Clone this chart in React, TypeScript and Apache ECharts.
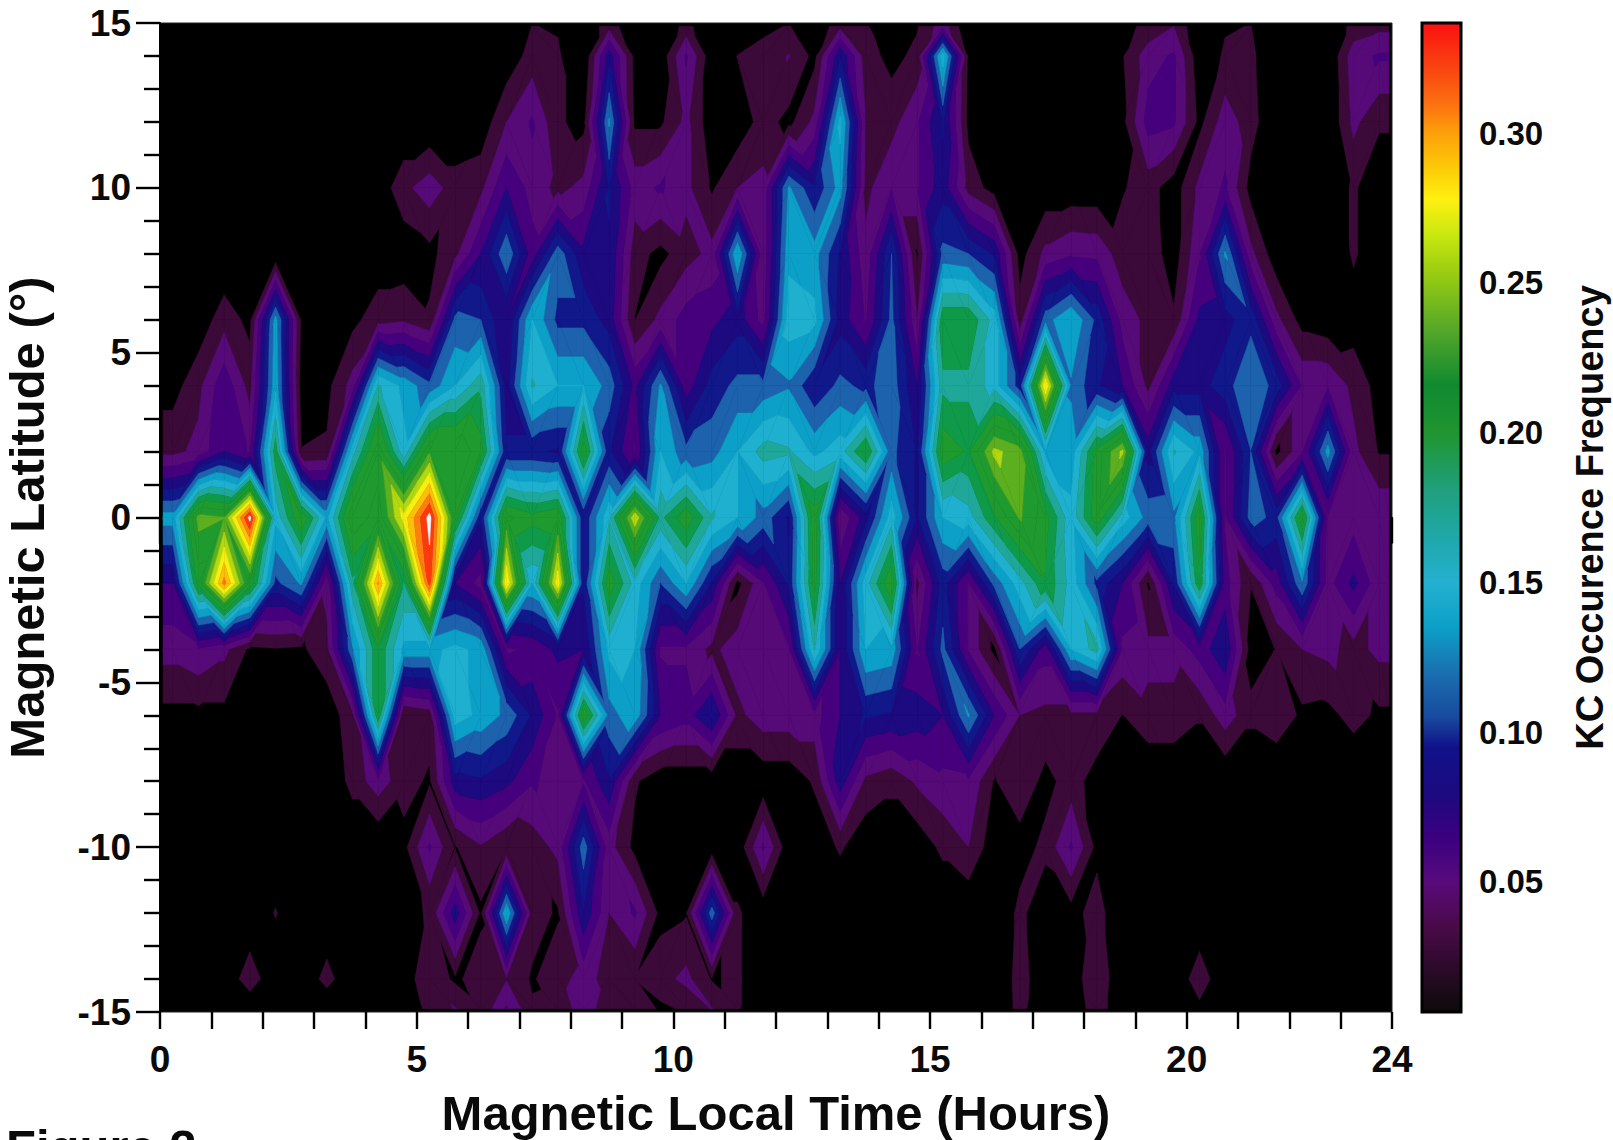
import React, { useEffect, useRef } from "react";
import * as echarts from "echarts";

// KC occurrence frequency x1000, one list per magnetic-latitude row, 48 half-hour MLT bins.
const lat15 = [0,0,0,5,0,0,5,0,0,0, 0,0,0,0,18,16,0,28,0,0, 24,0,0,12,19,0,30,20,0,16, 45,0,0,0,0,0,0,12,22,35, 0,16,18,0,0,0,24,30];
const lat14 = [8,0,0,0,0,0,0,0,0,0, 0,0,0,5,25,20,0,80,12,5, 55,5,18,26,36,12,85,25,12,22, 150,14,0,0,0,0,0,16,45,55, 5,20,22,0,0,0,45,55];
const lat12 = [0,0,0,0,0,0,0,0,0,0, 0,0,5,35,55,20,12,125,14,14, 40,5,5,25,12,40,145,35,28,50, 90,12,0,0,0,0,0,12,60,55, 12,45,25,0,0,0,40,20];
const lat10 = [0,0,0,0,0,0,0,0,5,30, 45,26,30,70,45,30,40,90,45,55, 40,15,35,40,125,90,130,30,50,50, 80,28,10,5,5,5,5,16,25,8, 40,55,10,0,0,5,20,5];
const lat8 = [0,0,0,0,0,0,0,0,5,5, 12,30,70,120,60,115,75,85,25,12, 28,40,140,40,135,130,85,40,105,15, 110,105,85,10,40,50,48,25,28,8, 50,125,40,5,0,0,20,5];
const lat6 = [5,5,28,12,130,15,5,12,28,32, 20,110,105,70,140,100,100,80,17,40, 60,65,80,45,150,145,80,50,110,35, 190,190,150,25,115,140,100,45,30,20, 75,80,100,40,10,5,8,5];
const lat4 = [10,30,65,28,135,10,12,42,160,135, 110,140,170,80,160,140,140,115,65,125, 60,95,110,110,120,90,110,100,115,70, 170,170,150,95,280,120,90,70,30,80, 80,98,120,98,50,50,30,10];
const lat2 = [30,40,70,50,185,18,20,150,220,145, 225,225,200,90,90,85,205,90,50,140, 110,115,140,165,160,135,150,195,110,85, 205,190,250,235,135,130,200,250,80,160, 135,50,105,12,50,130,40,16];
const lat0 = [130,235,228,340,145,210,135,225,200,270, 340,205,90,215,200,210,90,155,260,170, 205,160,140,115,85,205,35,80,150,85, 140,150,190,230,200,145,205,150,115,118, 205,50,112,100,205,48,44,50];
const latM2 = [70,200,305,205,100,125,40,170,300,175, 322,70,45,280,140,275,90,205,150,105, 140,85,12,50,90,200,70,150,210,30, 95,50,110,150,190,150,100,70,15,90, 190,60,18,60,120,45,75,40];
const latM4 = [42,50,40,14,16,14,30,120,190,135, 135,145,135,50,55,75,70,145,140,50, 50,30,45,45,50,160,70,140,135,50, 110,50,12,105,60,140,165,48,40,40, 60,85,10,18,35,40,28,40];
const latM6 = [12,12,12,5,5,5,5,30,190,18, 25,150,135,118,85,50,210,115,135,70, 60,90,30,45,45,45,70,90,85,80, 70,125,70,35,30,30,30,17,30,30, 20,45,22,30,14,12,24,14];
const latM8 = [0,0,0,0,0,0,0,24,45,24, 15,80,85,75,55,45,50,85,20,5, 5,5,5,5,5,20,80,30,22,38, 48,50,16,30,12,25,10,5,0,0, 0,0,0,0,0,0,0,0];
const latM10 = [0,0,0,0,0,0,0,0,0,12, 55,16,33,18,25,40,115,42,12,5, 5,5,5,55,5,5,20,5,5,5, 22,35,5,10,22,55,12,0,0,0, 0,0,0,0,0,0,0,0];
const latM12 = [0,0,0,0,19,0,0,0,0,10, 20,80,14,140,26,15,85,35,55,12, 16,115,20,5,0,0,0,0,0,0, 0,0,0,22,5,10,26,0,0,0, 0,0,0,0,0,0,0,0];
const latM14 = [0,0,0,30,0,0,25,0,0,8, 30,14,26,34,15,30,40,30,18,28, 40,16,20,5,0,0,0,0,0,0, 0,0,0,25,5,5,34,0,0,0, 30,0,0,0,0,0,0,0];
const latM15 = [0,0,0,0,0,0,0,0,0,0, 24,36,20,55,20,22,45,24,35,14, 20,36,20,0,0,0,0,0,0,0, 0,0,0,24,0,0,30,0,0,0, 12,0,0,0,0,0,0,0];

const rowLats = [14.9, 14, 12, 10, 8, 6, 4, 2, 0, -2, -4, -6, -8, -10, -12, -14, -14.9];
const rowValues = [lat15, lat14, lat12, lat10, lat8, lat6, lat4, lat2, lat0, latM2, latM4, latM6, latM8, latM10, latM12, latM14, latM15];

// Contour bands: lower bound and colour.
const bandLows = [17.5, 35, 52.5, 70, 87.5, 105, 122.5, 140, 157.5, 175, 192.5, 210, 227.5, 245, 262.5, 280, 297.5, 315, 332.5];
const bandColors = ["#3c0a38", "#560a78", "#46007e", "#1e0a80", "#10188a", "#1c62ad", "#0ca0c8", "#1fb0d0", "#1fa89a", "#0f9a4a", "#1f9a2f", "#1f9a2f", "#5caf1f", "#b4d810", "#f5f010", "#fcc008", "#fc8010", "#fc3a10", "#ffffff"];

const colorbarValues = [0.0065, 0.02, 0.035, 0.05, 0.065, 0.08, 0.095, 0.105, 0.12, 0.135, 0.15, 0.165, 0.18, 0.2, 0.216, 0.233, 0.255, 0.266, 0.278, 0.289, 0.3, 0.31, 0.32, 0.3368];
const colorbarColors = ["#0c0a0a", "#2a0a28", "#4a0a48", "#580a7c", "#3a0080", "#1c0a80", "#10128a", "#184a9e", "#1a70b0", "#0ca0c8", "#24b0d0", "#1fa8a8", "#1fa080", "#20952f", "#108a30", "#50a52a", "#a0d010", "#c8e810", "#fff010", "#fcc808", "#fca00a", "#fc7010", "#fa4a10", "#fc1010"];

const xMajor = [0, 5, 10, 15, 20, 24];
const colorbarTicks = [0.05, 0.1, 0.15, 0.2, 0.25, 0.3];

const FONT = "Liberation Sans";

type P = [number, number, number];

function clip(poly: P[], level: number, keepAbove: boolean): P[] {
  const out: P[] = [];
  for (let i = 0; i < poly.length; i++) {
    const a = poly[i];
    const b = poly[(i + 1) % poly.length];
    const ina = keepAbove ? a[2] >= level : a[2] <= level;
    const inb = keepAbove ? b[2] >= level : b[2] <= level;
    if (ina) out.push(a);
    if (ina !== inb) {
      const t = (level - a[2]) / (b[2] - a[2]);
      out.push([a[0] + (b[0] - a[0]) * t, a[1] + (b[1] - a[1]) * t, level]);
    }
  }
  return out;
}

function buildCells() {
  const xs: number[] = [0.06];
  for (let i = 0; i < 48; i++) xs.push(0.25 + 0.5 * i);
  xs.push(23.94);
  const val = (r: number, c: number) => rowValues[r][Math.min(47, Math.max(0, c - 1))];
  const cells: number[][] = [];
  for (let r = 0; r < rowLats.length - 1; r++) {
    for (let c = 0; c < xs.length - 1; c++) {
      const a = val(r, c), b = val(r, c + 1), d = val(r + 1, c), e = val(r + 1, c + 1);
      if (Math.max(a, b, d, e) < bandLows[0]) continue;
      cells.push([xs[c], rowLats[r], xs[c + 1], rowLats[r + 1], a, b, d, e]);
    }
  }
  return cells;
}

function renderCell(_: any, api: any) {
  const x0 = api.value(0), y0 = api.value(1), x1 = api.value(2), y1 = api.value(3);
  const a = api.value(4), b = api.value(5), d = api.value(6), e = api.value(7);
  const pa = api.coord([x0, y0]), pb = api.coord([x1, y0]), pd = api.coord([x0, y1]), pe = api.coord([x1, y1]);
  const A: P = [pa[0], pa[1], a], B: P = [pb[0], pb[1], b], E: P = [pe[0], pe[1], e], D: P = [pd[0], pd[1], d];
  // The diagonal joins the two closest corner values, so lone peaks and pits become diamonds.
  const tris: P[][] = Math.abs(a - e) <= Math.abs(b - d) ? [[A, B, E], [A, E, D]] : [[A, B, D], [B, E, D]];
  const children: any[] = [];
  for (const tri of tris) {
    const top = Math.max(tri[0][2], tri[1][2], tri[2][2]);
    const bot = Math.min(tri[0][2], tri[1][2], tri[2][2]);
    for (let k = 0; k < bandLows.length; k++) {
      const lo = bandLows[k];
      const hi = k + 1 < bandLows.length ? bandLows[k + 1] : 1e9;
      if (top < lo || bot > hi) continue;
      let poly = clip(tri, lo, true);
      if (poly.length >= 3) poly = clip(poly, hi, false);
      if (poly.length < 3) continue;
      children.push({
        type: "polygon",
        shape: { points: poly.map((p) => [p[0], p[1]]) },
        style: { fill: bandColors[k], stroke: bandColors[k], lineWidth: 0.6 },
      });
    }
  }
  return { type: "group", children };
}

function renderColorbar(_: any, api: any) {
  const lo = api.coord([0, colorbarValues[0]]);
  const hi = api.coord([1, colorbarValues[colorbarValues.length - 1]]);
  const span = colorbarValues[colorbarValues.length - 1] - colorbarValues[0];
  const stops = colorbarValues.map((v, i) => ({ offset: (v - colorbarValues[0]) / span, color: colorbarColors[i] }));
  return {
    type: "rect",
    shape: { x: lo[0], y: hi[1], width: hi[0] - lo[0], height: lo[1] - hi[1] },
    style: { fill: new echarts.graphic.LinearGradient(0, 1, 0, 0, stops), stroke: "#000", lineWidth: 3 },
  };
}

export default function App() {
  const ref = useRef<HTMLDivElement>(null);
  useEffect(() => {
    document.body.style.margin = "0";
    const chart = echarts.init(ref.current!, undefined, { renderer: "svg" });
    const tickLine = { color: "#000", width: 2.4 };
    const labelBase = { fontFamily: FONT, fontWeight: "bold" as const, color: "#0a0a0a" };
    chart.setOption({
      animation: false,
      backgroundColor: "#fff",
      grid: [
        { left: 160, top: 23, width: 1232, height: 989, show: true, backgroundColor: "#000", borderColor: "#222", borderWidth: 1, outerBoundsMode: "none", containLabel: false },
        { left: 1422, top: 23, width: 39, height: 989, show: false, outerBoundsMode: "none", containLabel: false },
      ],
      xAxis: [
        {
          type: "value", gridIndex: 0, min: 0, max: 24, interval: 1, position: "bottom",
          name: "Magnetic Local Time (Hours)", nameLocation: "middle", nameGap: 76,
          nameTextStyle: { ...labelBase, fontSize: 49 },
          splitLine: { show: false },
          axisLine: { show: true, lineStyle: { color: "#000", width: 2 } },
          axisTick: { show: true, length: 26, lineStyle: tickLine, customValues: xMajor },
          axisLabel: { ...labelBase, fontSize: 37, margin: 29, customValues: xMajor, formatter: (v: number) => String(v), showMinLabel: true, showMaxLabel: true },
        },
        {
          type: "value", gridIndex: 0, min: 0, max: 24, interval: 1, position: "bottom",
          splitLine: { show: false },
          axisLine: { show: false },
          axisTick: { show: true, length: 17, lineStyle: tickLine },
          axisLabel: { show: false },
        },
        { type: "value", gridIndex: 1, min: 0, max: 1, show: false },
      ],
      yAxis: [
        {
          type: "value", gridIndex: 0, min: -15, max: 15, interval: 5, position: "left",
          name: "Magnetic Latitude (°)", nameLocation: "middle", nameGap: 109, nameRotate: 90,
          nameTextStyle: { ...labelBase, fontSize: 49 },
          splitLine: { show: false },
          axisLine: { show: true, lineStyle: { color: "#000", width: 2 } },
          axisTick: { show: true, length: 24, lineStyle: tickLine },
          minorTick: { show: true, splitNumber: 5, length: 16, lineStyle: tickLine },
          axisLabel: { ...labelBase, fontSize: 37, margin: 29, showMinLabel: true, showMaxLabel: true },
        },
        {
          type: "value", gridIndex: 1, min: colorbarValues[0], max: colorbarValues[colorbarValues.length - 1], position: "right",
          name: "KC Occurence Frequency", nameLocation: "middle", nameGap: 110, nameRotate: 90,
          nameTextStyle: { ...labelBase, fontSize: 38 },
          splitLine: { show: false },
          axisLine: { show: false },
          axisTick: { show: true, length: 14, lineStyle: tickLine, customValues: colorbarTicks },
          axisLabel: { ...labelBase, fontSize: 33, margin: 18, customValues: colorbarTicks, formatter: (v: number) => v.toFixed(2) },
        },
      ],
      series: [
        {
          type: "custom", xAxisIndex: 0, yAxisIndex: 0, coordinateSystem: "cartesian2d",
          renderItem: renderCell, data: buildCells(), encode: { x: 0, y: 1 },
          silent: true, progressive: 0, clip: true,
        },
        {
          type: "custom", xAxisIndex: 2, yAxisIndex: 1, coordinateSystem: "cartesian2d",
          renderItem: renderColorbar, data: [[0, 0.1]], encode: { x: 0, y: 1 },
          silent: true,
        },
      ],
      graphic: [
        {
          type: "text", x: 6, y: 1122, silent: true,
          style: { text: "Figure 2", fontFamily: FONT, fontWeight: "bold", fontSize: 49, fill: "#0a0a0a", textVerticalAlign: "top" },
        },
      ],
    });
    return () => chart.dispose();
  }, []);
  return <div ref={ref} style={{ position: "absolute", left: 0, top: 0, width: 1613, height: 1140, overflow: "hidden" }} />;
}
